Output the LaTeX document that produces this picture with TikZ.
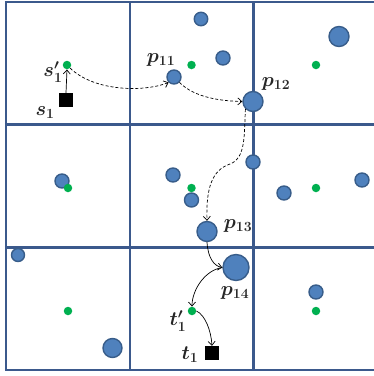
\RequirePackage{fix-cm}
\documentclass[tikz,border=0pt]{standalone}
\usetikzlibrary{arrows.meta}
\definecolor{gridc}{RGB}{59,89,140}
\definecolor{blobfill}{RGB}{79,129,189}
\definecolor{blobedge}{RGB}{56,93,138}
\definecolor{dotc}{RGB}{0,176,80}
\begin{document}
\begin{tikzpicture}[x=1pt,y=-1pt,
 gridline/.style={draw=gridc,line width=2.4pt},
 blob/.style={circle,fill=blobfill,draw=blobedge,line width=1.4pt,inner sep=0pt,minimum size=#1},
 dot/.style={circle,fill=dotc,inner sep=0pt,minimum size=8.5pt},
 sqr/.style={fill=black,inner sep=0pt,minimum size=14pt},
 lbl/.style={font=\fontsize{20}{22}\selectfont\boldmath, text=black!85, inner sep=0pt},
 link/.style={-{Straight Barb[length=4pt,width=7pt]},line width=0.7pt},
 dlink/.style={link,dash pattern=on 3pt off 2pt}]
\useasboundingbox (0,0) rectangle (374,376);
% grid
\foreach \x in {6,130,253.5} \draw[gridline] (\x,1.2) -- (\x,370.8);
\foreach \y in {2,124.5,247.5,370} \draw[gridline] (4.8,\y) -- (374,\y);
% other blobs and dots
\node[blob=13.5pt] (b1) at (201,19) {};
\node[blob=14pt] (b2) at (223,58) {};
\node[blob=20pt] (b3) at (339,36.5) {};
\node[blob=14pt] (b4) at (253,162) {};
\node[blob=14pt] (b5) at (362,180) {};
\node[blob=14pt] (b6) at (284,193) {};
\node[blob=14pt] (b7) at (62,181) {};
\node[blob=14pt] (b8) at (173,175) {};
\node[blob=14pt] (b9) at (191.5,200) {};
\node[blob=13pt] (b10) at (18,255) {};
\node[blob=19pt] (b11) at (112.5,348) {};
\node[blob=14pt] (b12) at (316,292) {};
\node[dot] (g1) at (191.5,65) {};
\node[dot] (g2) at (316,65) {};
\node[dot] (g3) at (68,188) {};
\node[dot] (g4) at (191.5,188) {};
\node[dot] (g5) at (316,188) {};
\node[dot] (g6) at (68,311) {};
\node[dot] (g7) at (316,311) {};
% path nodes
\node[sqr] (s1) at (66,100) {};
\node[dot] (s1p) at (67,65) {};
\node[blob=14pt] (p11) at (174,77) {};
\node[blob=20pt] (p12) at (253,101.5) {};
\node[blob=20pt] (p13) at (207,231.5) {};
\node[blob=26pt] (p14) at (236,267.5) {};
\node[dot] (t1p) at (192,311) {};
\node[sqr] (t1) at (212,353) {};
% labels
\node[lbl] (ls1p) at (53,72) {$s_1'$};
\node[lbl] (ls1) at (45,113) {$s_1$};
\node[lbl] (lp11) at (161,60) {$p_{11}$};
\node[lbl] (lp12) at (276,84) {$p_{12}$};
\node[lbl] (lp13) at (238,226) {$p_{13}$};
\node[lbl] (lp14) at (235,293) {$p_{14}$};
\node[lbl] (lt1p) at (178,321) {$t_1'$};
\node[lbl] (lt1) at (190,355) {$t_1$};
% connectors
\draw[link] (s1.north) -- (s1p.south);
\draw[dlink] (s1p.south east) .. controls (95,92) and (145,92) .. (p11.south west);
\draw[dlink] (p11.south east) .. controls (195,98) and (222,101) .. (p12.west);
\draw[dlink] (p12.south west) .. controls (244,135) and (246,158) .. (230,164)
  .. controls (212,170) and (206,188) .. (p13.north);
\draw[link] (p13.south) .. controls (208,258) and (214,266) .. (p14.west);
\draw[link] (p14.west) .. controls (205,270) and (192,290) .. (t1p.north);
\draw[link] (t1p.east) .. controls (205,315) and (211,330) .. (t1.north);
\end{tikzpicture}
\end{document}
